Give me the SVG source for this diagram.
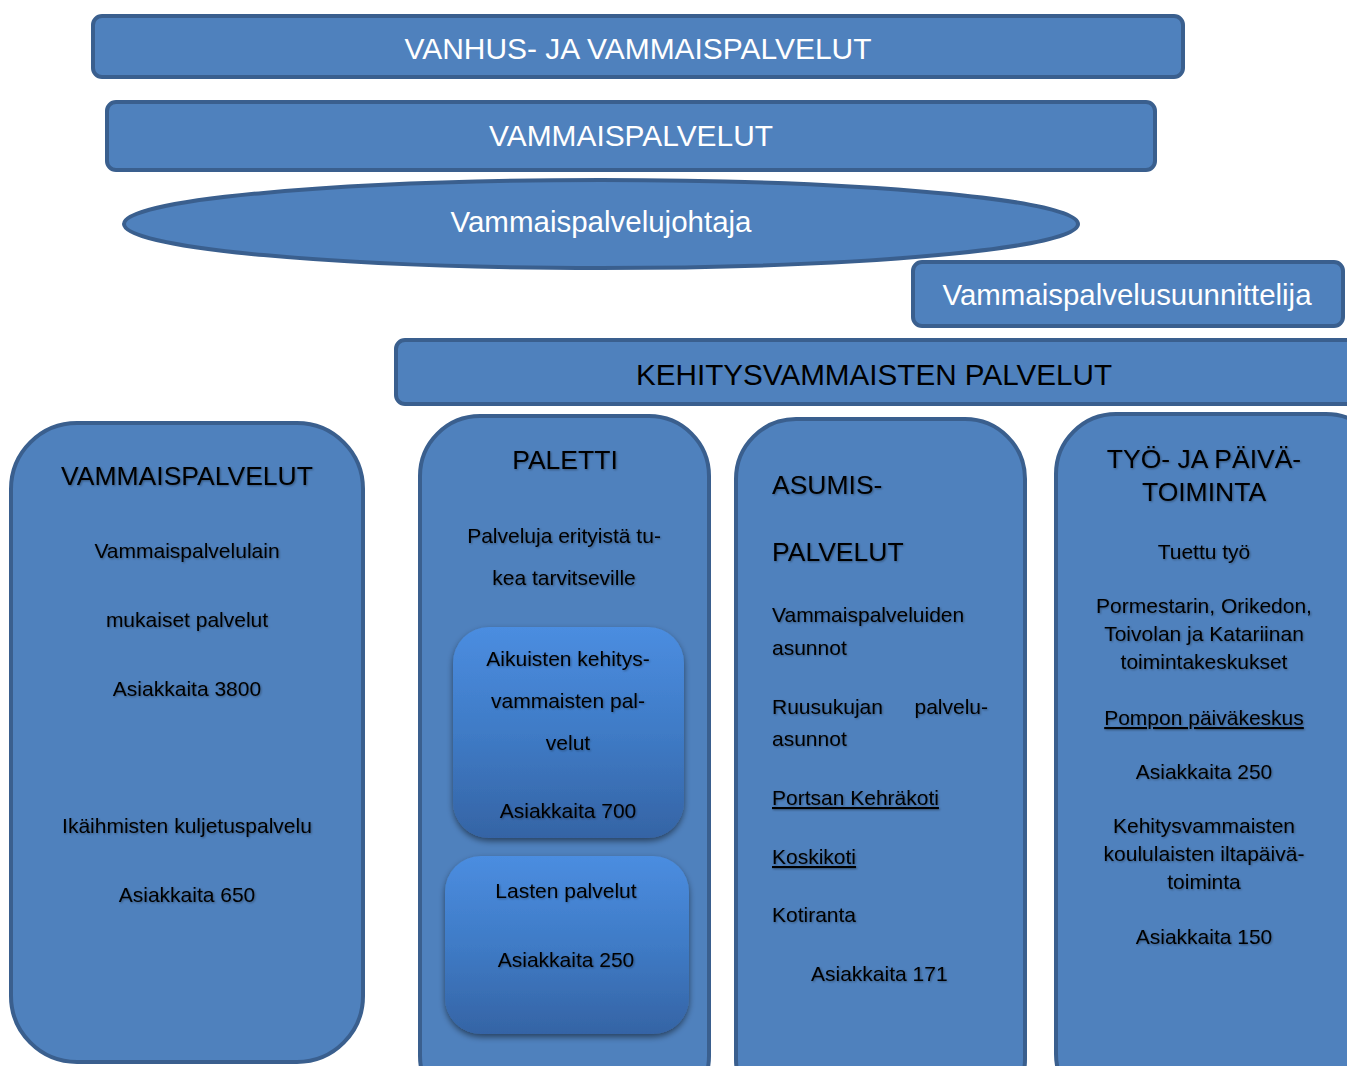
<svg xmlns="http://www.w3.org/2000/svg" width="1347" height="1066" viewBox="0 0 1347 1066">
<style>
.box{fill:#4f81bd;stroke:#3a5f8e;stroke-width:4}
.wt{fill:#ffffff;font-family:"Liberation Sans",Arial,sans-serif;font-size:30px;text-anchor:middle}
.bt{fill:#000000;font-family:"Liberation Sans",Arial,sans-serif;font-size:21px;text-anchor:middle;filter:url(#ts)}
.hd{font-size:26.5px}
.l{text-anchor:start}
.u{text-decoration:underline}
.inner{fill:url(#g);filter:url(#sh)}
</style>
<defs>
<linearGradient id="g" x1="0" y1="0" x2="0" y2="1">
<stop offset="0" stop-color="#4b8de0"/>
<stop offset="0.5" stop-color="#3f7bc6"/>
<stop offset="1" stop-color="#3564a5"/>
</linearGradient>
<filter id="sh" x="-10%" y="-10%" width="120%" height="125%">
<feGaussianBlur in="SourceAlpha" stdDeviation="3"/>
<feOffset dy="3"/>
<feComponentTransfer><feFuncA type="linear" slope="0.5"/></feComponentTransfer>
<feMerge><feMergeNode/><feMergeNode in="SourceGraphic"/></feMerge>
</filter>
<filter id="ts" x="-5%" y="-20%" width="110%" height="150%">
<feGaussianBlur in="SourceAlpha" stdDeviation="0.8"/>
<feOffset dx="1" dy="1"/>
<feComponentTransfer><feFuncA type="linear" slope="0.35"/></feComponentTransfer>
<feMerge><feMergeNode/><feMergeNode in="SourceGraphic"/></feMerge>
</filter>
</defs>

<g id="n-vanhus">
<rect class="box" x="93" y="16" width="1090" height="61" rx="9"/>
<text class="wt" x="638" y="59" textLength="467" lengthAdjust="spacingAndGlyphs">VANHUS- JA VAMMAISPALVELUT</text>
</g>
<g id="n-vammaispalvelut-top">
<rect class="box" x="107" y="102" width="1048" height="68" rx="9"/>
<text class="wt" x="631" y="146" textLength="284" lengthAdjust="spacingAndGlyphs">VAMMAISPALVELUT</text>
</g>
<g id="n-johtaja">
<ellipse class="box" cx="601" cy="224" rx="477" ry="44"/>
<text class="wt" x="601" y="232" textLength="301" lengthAdjust="spacingAndGlyphs">Vammaispalvelujohtaja</text>
</g>
<g id="n-suunnittelija">
<rect class="box" x="913" y="262" width="430" height="64" rx="9"/>
<text class="wt" x="1127" y="305" textLength="369" lengthAdjust="spacingAndGlyphs">Vammaispalvelusuunnittelija</text>
</g>
<g id="n-kehitys">
<rect class="box" x="396" y="340" width="970" height="64" rx="9"/>
<text class="wt" x="874" y="385" style="fill:#000" textLength="476" lengthAdjust="spacingAndGlyphs">KEHITYSVAMMAISTEN PALVELUT</text>
</g>

<g id="n-col1">
<rect class="box" x="11" y="423" width="352" height="639" rx="66"/>
<text class="bt hd" x="187" y="485">VAMMAISPALVELUT</text>
<text class="bt" x="187" y="558">Vammaispalvelulain</text>
<text class="bt" x="187" y="627">mukaiset palvelut</text>
<text class="bt" x="187" y="696">Asiakkaita 3800</text>
<text class="bt" x="187" y="833">Ikäihmisten kuljetuspalvelu</text>
<text class="bt" x="187" y="902">Asiakkaita 650</text>
</g>

<g id="n-paletti">
<rect class="box" x="420" y="416" width="289" height="700" rx="60"/>
<text class="bt hd" x="565" y="469">PALETTI</text>
<text class="bt" x="564" y="543">Palveluja erityistä tu-</text>
<text class="bt" x="564" y="585">kea tarvitseville</text>
</g>
<g id="n-aikuisten">
<rect class="inner" x="453" y="627" width="231" height="211" rx="36"/>
<text class="bt" x="568" y="666">Aikuisten kehitys-</text>
<text class="bt" x="568" y="708">vammaisten pal-</text>
<text class="bt" x="568" y="750">velut</text>
<text class="bt" x="568" y="818">Asiakkaita 700</text>
</g>
<g id="n-lasten">
<rect class="inner" x="445" y="856" width="244" height="178" rx="36"/>
<text class="bt" x="566" y="898">Lasten palvelut</text>
<text class="bt" x="566" y="967">Asiakkaita 250</text>
</g>

<g id="n-asumis">
<rect class="box" x="736" y="419" width="289" height="700" rx="60"/>
<text class="bt hd l" x="772" y="494">ASUMIS-</text>
<text class="bt hd l" x="772" y="561">PALVELUT</text>
<text class="bt l" x="772" y="622">Vammaispalveluiden</text>
<text class="bt l" x="772" y="655">asunnot</text>
<text class="bt l" x="772" y="714">Ruusukujan</text>
<text class="bt" x="988" y="714" style="text-anchor:end">palvelu-</text>
<text class="bt l" x="772" y="746">asunnot</text>
<text class="bt l u" x="772" y="805">Portsan Kehräkoti</text>
<text class="bt l u" x="772" y="864">Koskikoti</text>
<text class="bt l" x="772" y="922">Kotiranta</text>
<text class="bt l" x="811" y="981">Asiakkaita 171</text>
</g>

<g id="n-tyo">
<rect class="box" x="1056" y="414" width="330" height="700" rx="60"/>
<text class="bt hd" x="1204" y="468">TYÖ- JA PÄIVÄ-</text>
<text class="bt hd" x="1204" y="501">TOIMINTA</text>
<text class="bt" x="1204" y="559">Tuettu työ</text>
<text class="bt" x="1204" y="613">Pormestarin, Orikedon,</text>
<text class="bt" x="1204" y="641">Toivolan ja Katariinan</text>
<text class="bt" x="1204" y="669">toimintakeskukset</text>
<text class="bt u" x="1204" y="725">Pompon päiväkeskus</text>
<text class="bt" x="1204" y="779">Asiakkaita 250</text>
<text class="bt" x="1204" y="833">Kehitysvammaisten</text>
<text class="bt" x="1204" y="861">koululaisten iltapäivä-</text>
<text class="bt" x="1204" y="889">toiminta</text>
<text class="bt" x="1204" y="944">Asiakkaita 150</text>
</g>

<g id="connectors"></g>
</svg>
